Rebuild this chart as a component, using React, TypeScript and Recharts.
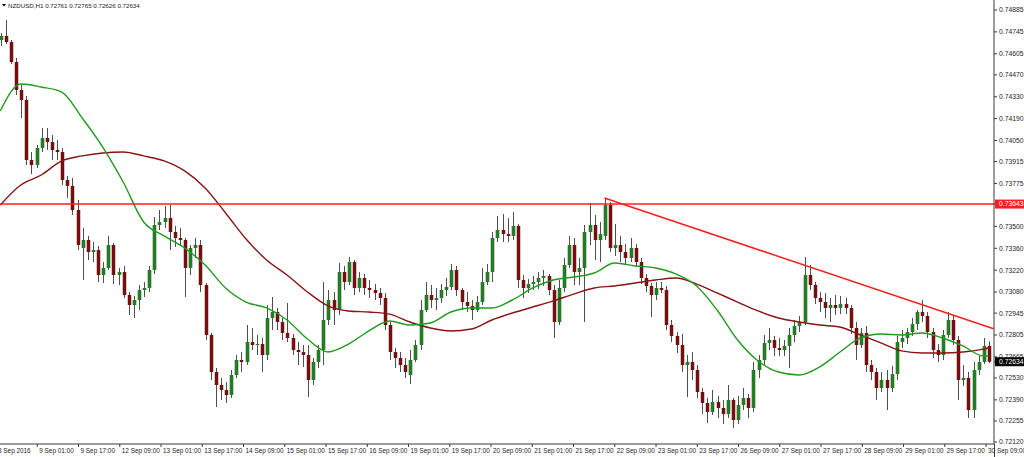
import React from 'react';
import { ComposedChart, Bar, Line, XAxis, YAxis, ReferenceLine } from 'recharts';

// NZDUSD H1, grouped into 2-hour candles (8 Sep – 30 Sep 2016)
const opens = [
  0.74693, 0.74719, 0.74680, 0.74552, 0.74373, 0.74309, 0.73925, 0.73893, 0.74002, 0.74066,
  0.74040, 0.73989, 0.73976, 0.73797, 0.73759, 0.73605, 0.73362, 0.73413, 0.73336, 0.73349,
  0.73189, 0.73234, 0.73381, 0.73189, 0.73208, 0.73061, 0.72997, 0.73029, 0.73093, 0.73106,
  0.73221, 0.73509, 0.73528, 0.73554, 0.73464, 0.73426, 0.73413, 0.73234, 0.73362, 0.73381,
  0.73125, 0.72805, 0.72568, 0.72485, 0.72453, 0.72421, 0.72549, 0.72645, 0.72632, 0.72760,
  0.72741, 0.72747, 0.72677, 0.72914, 0.72952, 0.72888, 0.72818, 0.72786, 0.72709, 0.72696,
  0.72677, 0.72517, 0.72632, 0.72709, 0.72901, 0.73029, 0.72965, 0.73208, 0.73144, 0.73272,
  0.73106, 0.73170, 0.73106, 0.73093, 0.73074, 0.73042, 0.72869, 0.72696, 0.72658, 0.72613,
  0.72549, 0.72645, 0.72741, 0.72965, 0.73061, 0.73029, 0.73042, 0.73093, 0.73112, 0.73221,
  0.73093, 0.73016, 0.72991, 0.72965, 0.73016, 0.73144, 0.73208, 0.73426, 0.73477, 0.73451,
  0.73439, 0.73503, 0.73157, 0.73106, 0.73131, 0.73144, 0.73170, 0.73183, 0.73093, 0.72888,
  0.73106, 0.73253, 0.73381, 0.73208, 0.73234, 0.73464, 0.73509, 0.73413, 0.73439, 0.73637,
  0.73362, 0.73381, 0.73336, 0.73298, 0.73362, 0.73272, 0.73170, 0.73119, 0.73061, 0.73106,
  0.73093, 0.72869, 0.72799, 0.72741, 0.72613, 0.72632, 0.72581, 0.72440, 0.72370, 0.72312,
  0.72376, 0.72338, 0.72299, 0.72389, 0.72261, 0.72357, 0.72402, 0.72338, 0.72581, 0.72645,
  0.72754, 0.72773, 0.72722, 0.72709, 0.72735, 0.72805, 0.72863, 0.72888, 0.73189, 0.73125,
  0.73042, 0.73016, 0.72978, 0.72997, 0.72978, 0.73003, 0.72978, 0.72850, 0.72741, 0.72818,
  0.72613, 0.72568, 0.72466, 0.72517, 0.72466, 0.72555, 0.72760, 0.72786, 0.72824, 0.72875,
  0.72952, 0.72927, 0.72824, 0.72709, 0.72677, 0.72805, 0.72901, 0.72773, 0.72517, 0.72530,
  0.72325, 0.72581, 0.72632, 0.72735,
];
const highs = [
  0.74738, 0.74821, 0.74693, 0.74578, 0.74405, 0.74335, 0.73976, 0.74021, 0.74130, 0.74130,
  0.74085, 0.74053, 0.74002, 0.73823, 0.73810, 0.73669, 0.73490, 0.73439, 0.73400, 0.73375,
  0.73272, 0.73439, 0.73394, 0.73234, 0.73247, 0.73080, 0.73055, 0.73125, 0.73144, 0.73247,
  0.73560, 0.73605, 0.73631, 0.73637, 0.73503, 0.73490, 0.73426, 0.73381, 0.73426, 0.73413,
  0.73138, 0.72818, 0.72594, 0.72530, 0.72504, 0.72581, 0.72677, 0.72696, 0.72869, 0.72850,
  0.72805, 0.72786, 0.72997, 0.73048, 0.72978, 0.72914, 0.73010, 0.72811, 0.72760, 0.72741,
  0.72741, 0.72658, 0.72741, 0.73144, 0.73093, 0.73080, 0.73266, 0.73247, 0.73304, 0.73285,
  0.73208, 0.73195, 0.73157, 0.73131, 0.73106, 0.73074, 0.72888, 0.72722, 0.72696, 0.72658,
  0.72709, 0.72773, 0.73029, 0.73144, 0.73125, 0.73106, 0.73131, 0.73170, 0.73259, 0.73247,
  0.73106, 0.73080, 0.73029, 0.73055, 0.73234, 0.73259, 0.73464, 0.73567, 0.73579, 0.73554,
  0.73592, 0.73515, 0.73189, 0.73163, 0.73183, 0.73208, 0.73221, 0.73195, 0.73125, 0.73157,
  0.73298, 0.73439, 0.73426, 0.73298, 0.73509, 0.73650, 0.73573, 0.73528, 0.73682, 0.73656,
  0.73515, 0.73439, 0.73387, 0.73426, 0.73387, 0.73298, 0.73195, 0.73138, 0.73144, 0.73144,
  0.73119, 0.72901, 0.72824, 0.72811, 0.72677, 0.72696, 0.72613, 0.72466, 0.72402, 0.72453,
  0.72415, 0.72389, 0.72485, 0.72402, 0.72415, 0.72466, 0.72427, 0.72632, 0.72677, 0.72805,
  0.72850, 0.72799, 0.72786, 0.72773, 0.72850, 0.72901, 0.72927, 0.73304, 0.73253, 0.73144,
  0.73080, 0.73074, 0.73042, 0.73061, 0.73055, 0.73042, 0.72997, 0.72888, 0.72850, 0.72863,
  0.72645, 0.72594, 0.72568, 0.72581, 0.72607, 0.72799, 0.72837, 0.72850, 0.72914, 0.72965,
  0.73029, 0.72952, 0.72850, 0.72747, 0.72837, 0.72952, 0.72933, 0.72799, 0.72613, 0.72568,
  0.72632, 0.72671, 0.72786, 0.72765,
];
const lows = [
  0.74655, 0.74667, 0.74539, 0.74341, 0.74194, 0.73893, 0.73835, 0.73874, 0.73976, 0.73989,
  0.73925, 0.73925, 0.73765, 0.73682, 0.73573, 0.73349, 0.73157, 0.73285, 0.73272, 0.73144,
  0.73138, 0.73221, 0.73131, 0.73125, 0.73042, 0.72933, 0.72914, 0.72965, 0.73048, 0.73080,
  0.73195, 0.73477, 0.73490, 0.73349, 0.73368, 0.73375, 0.73048, 0.73189, 0.73298, 0.73080,
  0.72773, 0.72517, 0.72344, 0.72389, 0.72370, 0.72402, 0.72530, 0.72568, 0.72613, 0.72709,
  0.72677, 0.72568, 0.72645, 0.72837, 0.72837, 0.72773, 0.72760, 0.72677, 0.72613, 0.72600,
  0.72408, 0.72485, 0.72594, 0.72613, 0.72869, 0.72869, 0.72933, 0.73093, 0.73125, 0.73061,
  0.73080, 0.73061, 0.73042, 0.73029, 0.72997, 0.72837, 0.72645, 0.72594, 0.72568, 0.72530,
  0.72491, 0.72632, 0.72709, 0.72952, 0.72978, 0.72965, 0.73010, 0.73055, 0.73093, 0.73055,
  0.72965, 0.72952, 0.72901, 0.72952, 0.72997, 0.73125, 0.73144, 0.73400, 0.73400, 0.73400,
  0.73413, 0.73106, 0.73042, 0.73074, 0.73093, 0.73099, 0.73119, 0.73061, 0.72786, 0.72869,
  0.73080, 0.73234, 0.73125, 0.73125, 0.72888, 0.73381, 0.73285, 0.73272, 0.73413, 0.73336,
  0.73311, 0.73272, 0.73259, 0.73272, 0.73247, 0.73131, 0.73080, 0.72920, 0.73029, 0.73074,
  0.72837, 0.72760, 0.72690, 0.72568, 0.72408, 0.72517, 0.72402, 0.72299, 0.72242, 0.72293,
  0.72274, 0.72235, 0.72274, 0.72210, 0.72235, 0.72325, 0.72274, 0.72312, 0.72530, 0.72607,
  0.72709, 0.72671, 0.72671, 0.72671, 0.72594, 0.72760, 0.72824, 0.72869, 0.73093, 0.73003,
  0.72952, 0.72914, 0.72888, 0.72933, 0.72939, 0.72939, 0.72811, 0.72645, 0.72722, 0.72568,
  0.72517, 0.72389, 0.72440, 0.72325, 0.72440, 0.72517, 0.72722, 0.72747, 0.72799, 0.72837,
  0.72888, 0.72786, 0.72658, 0.72632, 0.72645, 0.72786, 0.72741, 0.72389, 0.72479, 0.72274,
  0.72274, 0.72549, 0.72619, 0.72626,
];
const closes = [
  0.74719, 0.74680, 0.74552, 0.74373, 0.74309, 0.73925, 0.73893, 0.74002, 0.74066, 0.74040,
  0.73989, 0.73976, 0.73797, 0.73759, 0.73605, 0.73381, 0.73413, 0.73336, 0.73349, 0.73189,
  0.73234, 0.73381, 0.73189, 0.73208, 0.73061, 0.72997, 0.73029, 0.73093, 0.73106, 0.73221,
  0.73509, 0.73528, 0.73554, 0.73464, 0.73426, 0.73413, 0.73234, 0.73362, 0.73381, 0.73125,
  0.72805, 0.72568, 0.72485, 0.72453, 0.72421, 0.72549, 0.72645, 0.72632, 0.72760, 0.72741,
  0.72747, 0.72677, 0.72914, 0.72952, 0.72888, 0.72818, 0.72786, 0.72709, 0.72696, 0.72677,
  0.72517, 0.72632, 0.72709, 0.72901, 0.73029, 0.72965, 0.73208, 0.73144, 0.73272, 0.73106,
  0.73170, 0.73106, 0.73093, 0.73074, 0.73042, 0.72869, 0.72696, 0.72658, 0.72613, 0.72568,
  0.72645, 0.72741, 0.72965, 0.73061, 0.73029, 0.73042, 0.73093, 0.73112, 0.73221, 0.73093,
  0.73016, 0.72991, 0.72965, 0.73016, 0.73144, 0.73208, 0.73426, 0.73477, 0.73451, 0.73439,
  0.73503, 0.73157, 0.73106, 0.73131, 0.73144, 0.73170, 0.73183, 0.73093, 0.72888, 0.73106,
  0.73253, 0.73381, 0.73208, 0.73234, 0.73464, 0.73509, 0.73413, 0.73451, 0.73637, 0.73362,
  0.73381, 0.73336, 0.73298, 0.73362, 0.73272, 0.73170, 0.73119, 0.73061, 0.73106, 0.73093,
  0.72869, 0.72799, 0.72741, 0.72613, 0.72632, 0.72581, 0.72440, 0.72370, 0.72312, 0.72376,
  0.72338, 0.72299, 0.72389, 0.72261, 0.72357, 0.72402, 0.72338, 0.72581, 0.72645, 0.72754,
  0.72773, 0.72722, 0.72709, 0.72735, 0.72805, 0.72863, 0.72888, 0.73189, 0.73125, 0.73042,
  0.73016, 0.72978, 0.72997, 0.72978, 0.73003, 0.72978, 0.72850, 0.72741, 0.72818, 0.72613,
  0.72568, 0.72466, 0.72517, 0.72466, 0.72555, 0.72760, 0.72786, 0.72824, 0.72875, 0.72952,
  0.72927, 0.72824, 0.72709, 0.72677, 0.72805, 0.72901, 0.72773, 0.72517, 0.72530, 0.72325,
  0.72581, 0.72632, 0.72735, 0.72634,
];

// moving averages read every 4th candle (last value at the final candle)
const fastMA = [
  0.74239, 0.74411, 0.74392, 0.74360, 0.74194, 0.74008, 0.73784, 0.73528, 0.73439, 0.73362,
  0.73253, 0.73106, 0.73016, 0.72978, 0.72901, 0.72779, 0.72696, 0.72747, 0.72831, 0.72895,
  0.72869, 0.72882, 0.72952, 0.72978, 0.72978, 0.73029, 0.73106, 0.73157, 0.73176, 0.73202,
  0.73266, 0.73247, 0.73234, 0.73195, 0.73119, 0.72965, 0.72773, 0.72639, 0.72568, 0.72549,
  0.72600, 0.72696, 0.72786, 0.72811, 0.72805, 0.72818, 0.72786, 0.72735, 0.72671, 0.72671,
];
const slowMA = [
  0.73637, 0.73765, 0.73829, 0.73919, 0.73951, 0.73970, 0.73976, 0.73951, 0.73919, 0.73855,
  0.73746, 0.73586, 0.73419, 0.73285, 0.73189, 0.73080, 0.72991, 0.72959, 0.72952, 0.72939,
  0.72888, 0.72850, 0.72831, 0.72843, 0.72901, 0.72946, 0.72984, 0.73023, 0.73067, 0.73106,
  0.73119, 0.73138, 0.73157, 0.73170, 0.73131, 0.73074, 0.73016, 0.72959, 0.72914, 0.72888,
  0.72869, 0.72856, 0.72805, 0.72754, 0.72703, 0.72690, 0.72690, 0.72696, 0.72715, 0.72722,
];
const MA_STEP = 4;

const xTickLabels = [
  '8 Sep 2016', '9 Sep 01:00', '9 Sep 17:00', '12 Sep 09:00', '13 Sep 01:00', '13 Sep 17:00',
  '14 Sep 09:00', '15 Sep 01:00', '15 Sep 17:00', '16 Sep 09:00', '19 Sep 01:00', '19 Sep 17:00',
  '20 Sep 09:00', '21 Sep 01:00', '21 Sep 17:00', '22 Sep 09:00', '23 Sep 01:00', '23 Sep 17:00',
  '26 Sep 09:00', '27 Sep 01:00', '27 Sep 17:00', '28 Sep 09:00', '29 Sep 01:00', '29 Sep 17:00',
  '30 Sep 09:00',
];
const yTickValues = [
  0.74885, 0.74745, 0.74605, 0.7447, 0.7433, 0.7419, 0.7405, 0.73915, 0.73775, 0.735,
  0.7336, 0.7322, 0.7308, 0.72945, 0.72805, 0.72665, 0.7253, 0.7239, 0.72255, 0.7212,
];
const levelPrice = 0.73643;
const lastPrice = 0.72634;
const trendStart = { bar: 118, price: 0.73682 };
const trendEnd = { bar: 194.0, price: 0.72845 };
const titleText = 'NZDUSD,H1  0.72761 0.72765 0.72626 0.72634';

const Y_DOMAIN: [number, number] = [0.721074, 0.74949];
const X_DOMAIN: [number, number] = [-1.035, 194.08];
// label every 16 hours
const xTickValues = xTickLabels.map((_, k) => -0.84 + 8.057 * k);

const FONT = '"Liberation Sans", Arial, sans-serif';

const rows = opens.map((o, i) => {
  const row: any = { i, o, h: highs[i], l: lows[i], c: closes[i], range: [lows[i], highs[i]] };
  return row;
});
fastMA.forEach((v, k) => {
  const idx = Math.min(k * MA_STEP, rows.length - 1);
  rows[idx].fast = v;
});
slowMA.forEach((v, k) => {
  const idx = Math.min(k * MA_STEP, rows.length - 1);
  rows[idx].slow = v;
});

const Candle = (props: any) => {
  const { x, y, width, height, payload } = props;
  if (x == null || y == null || !payload) return null;
  const top = Math.min(y, y + height);
  const h = Math.abs(height);
  const { o, c } = payload;
  const hi = payload.h;
  const lo = payload.l;
  const span = hi - lo;
  const py = (v: number) => (span > 0 ? top + ((hi - v) / span) * h : top);
  const cx = Math.round(x + width / 2);
  const yo = py(o);
  const yc = py(c);
  const bTop = Math.min(yo, yc);
  const bH = Math.max(1, Math.abs(yo - yc));
  const up = c >= o;
  return (
    <g>
      <rect x={cx} y={top} width={1} height={Math.max(1, h)} fill="#4e4e4e" />
      <rect x={cx - 2} y={bTop} width={5} height={bH} fill="#cacaca" />
      <rect x={cx - 1} y={bTop} width={3} height={bH} fill={up ? '#1f7f1f' : '#7c0c0c'} />
    </g>
  );
};

const XTick = (props: any) => {
  const { x, y, payload, index } = props;
  let k = typeof index === 'number' ? index : -1;
  if (k < 0 || xTickValues[k] !== payload.value) k = xTickValues.indexOf(payload.value);
  return (
    <text x={x + 2} y={y + 4} fontSize={6.4} fontFamily={FONT} fill="#1e1e1e" textAnchor="start">
      {xTickLabels[k] ?? ''}
    </text>
  );
};

const YTick = (props: any) => {
  const { x, y, payload } = props;
  const v = payload.value;
  if (v === levelPrice || v === lastPrice) {
    const bg = v === levelPrice ? '#ff1e1e' : '#000000';
    return (
      <g>
        <rect x={x - 4} y={y - 4.5} width={30} height={9} fill={bg} />
        <text x={x} y={y} dy="0.35em" fontSize={6.8} fontFamily={FONT} fill="#ffffff" textAnchor="start">
          {v.toFixed(5)}
        </text>
      </g>
    );
  }
  return (
    <text x={x} y={y} dy="0.35em" fontSize={6.8} fontFamily={FONT} fill="#1e1e1e" textAnchor="start">
      {v.toFixed(5)}
    </text>
  );
};

export default function App() {
  return (
    <div style={{ position: 'relative', width: 1024, height: 457, overflow: 'hidden', background: '#fff' }}>
      <style>{`body{margin:0;background:#fff}`}</style>
      <div style={{ position: 'absolute', left: -5, top: 0 }}>
        <ComposedChart width={1029} height={457} data={rows} margin={{ top: 0, right: 0, bottom: 0, left: 0 }}>
          <XAxis
            dataKey="i"
            type="number"
            scale="linear"
            domain={X_DOMAIN}
            allowDataOverflow
            ticks={xTickValues}
            interval={0}
            height={13}
            tickSize={3}
            tickMargin={2}
            tick={<XTick />}
            axisLine={{ stroke: '#3a3a3a' }}
            tickLine={{ stroke: '#3a3a3a' }}
          />
          <YAxis
            orientation="right"
            type="number"
            domain={Y_DOMAIN}
            allowDataOverflow
            ticks={[...yTickValues, levelPrice, lastPrice]}
            interval={0}
            width={30}
            tickSize={3}
            tickMargin={2}
            tick={<YTick />}
            axisLine={{ stroke: '#3a3a3a' }}
            tickLine={{ stroke: '#3a3a3a' }}
          />
          <Bar dataKey="range" barSize={4} shape={<Candle />} isAnimationActive={false} />
          <Line
            dataKey="slow"
            type="monotone"
            stroke="#8a1414"
            strokeWidth={1.4}
            dot={false}
            activeDot={false}
            connectNulls
            isAnimationActive={false}
          />
          <Line
            dataKey="fast"
            type="monotone"
            stroke="#1f9b1f"
            strokeWidth={1.4}
            dot={false}
            activeDot={false}
            connectNulls
            isAnimationActive={false}
          />
          <ReferenceLine y={levelPrice} stroke="#ff1e1e" strokeWidth={1.6} />
          <ReferenceLine
            segment={[
              { x: trendStart.bar, y: trendStart.price },
              { x: trendEnd.bar, y: trendEnd.price },
            ]}
            stroke="#ff1e1e"
            strokeWidth={1.5}
          />
        </ComposedChart>
      </div>
      <svg width={1024} height={457} style={{ position: 'absolute', left: 0, top: 0, pointerEvents: 'none' }}>
        <polygon points="2,4 6,4 4,6.5" fill="#000" />
        <text x={8} y={7.5} fontSize={6.2} fontFamily={FONT} fill="#1e1e1e">
          {titleText}
        </text>
        <line x1={994.5} x2={994.5} y1={444} y2={457} stroke="#3a3a3a" strokeWidth={1} />
      </svg>
    </div>
  );
}
